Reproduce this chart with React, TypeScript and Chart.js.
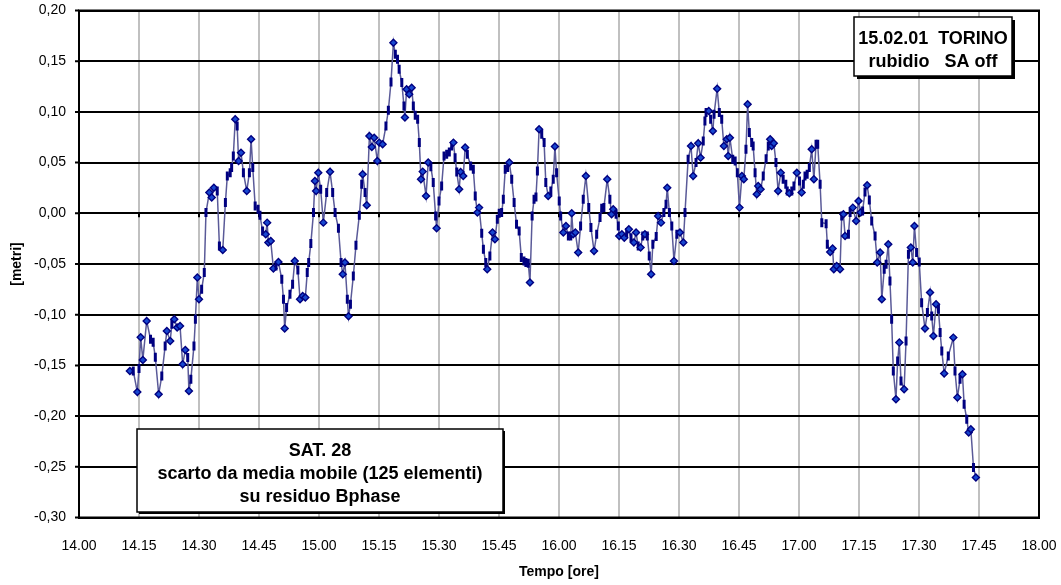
import React, { useEffect, useRef } from "react";
import { Chart, registerables } from "chart.js";

Chart.register(...registerables);

// Time of each sample, decimal hours (14.5 = 14:30)
const TIMES = [
  14.212, 14.226, 14.243, 14.25, 14.257, 14.266, 14.282, 14.298, 14.309, 14.318,
  14.332, 14.345, 14.359, 14.366, 14.38, 14.387, 14.397, 14.409, 14.421, 14.432,
  14.443, 14.453, 14.458, 14.466, 14.479, 14.485, 14.493, 14.5, 14.511, 14.522,
  14.529, 14.543, 14.553, 14.562, 14.576, 14.585, 14.599, 14.61, 14.618, 14.63,
  14.636, 14.643, 14.651, 14.659, 14.665, 14.675, 14.685, 14.699, 14.71, 14.717,
  14.724, 14.734, 14.746, 14.754, 14.765, 14.778, 14.784, 14.789, 14.799, 14.81,
  14.821, 14.831, 14.845, 14.852, 14.857, 14.865, 14.879, 14.89, 14.899, 14.912,
  14.921, 14.932, 14.943, 14.951, 14.957, 14.966, 14.977, 14.983, 14.988, 14.997,
  15.007, 15.018, 15.032, 15.046, 15.057, 15.067, 15.081, 15.092, 15.099, 15.108,
  15.118, 15.123, 15.131, 15.143, 15.154, 15.168, 15.178, 15.182, 15.192, 15.199,
  15.21, 15.22, 15.23, 15.243, 15.251, 15.265, 15.279, 15.289, 15.3, 15.31,
  15.318, 15.327, 15.334, 15.345, 15.354, 15.358, 15.365, 15.376, 15.386, 15.393,
  15.401, 15.411, 15.418, 15.425, 15.432, 15.446, 15.455, 15.466, 15.476, 15.486,
  15.49, 15.5, 15.511, 15.521, 15.532, 15.543, 15.553, 15.56, 15.567, 15.574,
  15.584, 15.59, 15.601, 15.609, 15.618, 15.632, 15.643, 15.651, 15.66, 15.667,
  15.678, 15.685, 15.695, 15.701, 15.712, 15.723, 15.733, 15.743, 15.751, 15.761,
  15.768, 15.776, 15.786, 15.793, 15.803, 15.813, 15.823, 15.834, 15.843, 15.854,
  15.862, 15.872, 15.879, 15.888, 15.896, 15.904, 15.91, 15.917, 15.928, 15.938,
  15.945, 15.955, 15.966, 15.976, 15.983, 15.99, 16.001, 16.007, 16.018, 16.029,
  16.039, 16.049, 16.053, 16.059, 16.068, 16.08, 16.09, 16.101, 16.112, 16.124,
  16.133, 16.146, 16.157, 16.171, 16.178, 16.187, 16.201, 16.212, 16.219, 16.226,
  16.238, 16.247, 16.251, 16.262, 16.272, 16.282, 16.291, 16.3, 16.312, 16.321,
  16.33, 16.34, 16.349, 16.358, 16.368, 16.376, 16.384, 16.391, 16.405, 16.413,
  16.425, 16.437, 16.446, 16.451, 16.46, 16.47, 16.479, 16.491, 16.504, 16.518,
  16.525, 16.538, 16.55, 16.559, 16.571, 16.58, 16.59, 16.601, 16.608, 16.613,
  16.624, 16.632, 16.641, 16.646, 16.659, 16.668, 16.678, 16.687, 16.699, 16.705,
  16.712, 16.724, 16.734, 16.743, 16.752, 16.762, 16.77, 16.779, 16.786, 16.793,
  16.803, 16.809, 16.817, 16.824, 16.83, 16.84, 16.851, 16.863, 16.872, 16.88,
  16.886, 16.895, 16.904, 16.913, 16.924, 16.934, 16.945, 16.951, 16.96, 16.97,
  16.979, 16.991, 17.002, 17.011, 17.018, 17.025, 17.034, 17.043, 17.053, 17.062,
  17.071, 17.078, 17.088, 17.095, 17.113, 17.118, 17.13, 17.14, 17.145, 17.157,
  17.171, 17.178, 17.185, 17.192, 17.206, 17.213, 17.224, 17.238, 17.248, 17.257,
  17.265, 17.275, 17.284, 17.293, 17.303, 17.317, 17.326, 17.338, 17.345, 17.355,
  17.363, 17.372, 17.379, 17.386, 17.393, 17.404, 17.411, 17.418, 17.425, 17.438,
  17.446, 17.456, 17.466, 17.474, 17.481, 17.49, 17.501, 17.511, 17.525, 17.535,
  17.546, 17.553, 17.56, 17.571, 17.581, 17.588, 17.595, 17.605, 17.622, 17.643,
  17.65, 17.66, 17.671, 17.681, 17.688, 17.699, 17.707, 17.716, 17.727, 17.737,
];

// Residual in metres
const VALUES = [
  -0.1555, -0.1555, -0.1762, -0.1531, -0.1223, -0.1446, -0.1062, -0.1242, -0.1272, -0.142,
  -0.1785, -0.1604, -0.1308, -0.116, -0.1259, -0.1094, -0.1045, -0.1127, -0.1111, -0.1489,
  -0.1348, -0.1423, -0.1752, -0.1637, -0.1308, -0.1045, -0.0634, -0.0848, -0.0749, -0.0585,
  0.0007, 0.0204, 0.0155, 0.0253, 0.022, -0.0322, -0.0362, 0.0106, 0.0368, 0.0401,
  0.0451, 0.0565, 0.0927, 0.0861, 0.0516, 0.0598, 0.0401, 0.022, 0.0401, 0.073,
  0.0451, 0.0072, 0.0039, -0.002, -0.0175, -0.0207, -0.0092, -0.0289, -0.0273, -0.0545,
  -0.052, -0.048, -0.0651, -0.0848, -0.1137, -0.093, -0.0799, -0.07, -0.047, -0.0559,
  -0.0848, -0.0815, -0.0831, -0.0585, -0.0486, -0.0299, 0.0007, 0.0318, 0.022, 0.0401,
  0.0237, -0.0092, 0.0204, 0.0409, 0.0204, 0.0007, -0.0148, -0.0486, -0.0602, -0.0486,
  -0.0848, -0.1016, -0.0897, -0.0618, -0.0316, -0.002, 0.0286, 0.0385, 0.0204, 0.0079,
  0.0762, 0.0654, 0.0746, 0.0516, 0.0697, 0.068, 0.0861, 0.1016, 0.1295, 0.1683,
  0.1568, 0.1518, 0.142, 0.1289, 0.1058, 0.0944, 0.1223, 0.1174, 0.1239, 0.1058,
  0.0966, 0.0927, 0.0697, 0.0335, 0.0411, 0.0171, 0.05, 0.046, 0.0303, -0.0027,
  -0.0148, 0.0121, 0.0269, 0.0565, 0.0582, 0.0604, 0.0664, 0.0697, 0.0549, 0.0407,
  0.0237, 0.0407, 0.0368, 0.0648, 0.0582, 0.0466, 0.0434, 0.0171, 0.0007, 0.0056,
  -0.0197, -0.0355, -0.0486, -0.0552, -0.0421, -0.019, -0.0256, -0.0059, 0.0, 0.0007,
  0.0138, 0.0434, 0.0451, 0.05, 0.0335, 0.0106, -0.0108, -0.0175, -0.0437, -0.047,
  -0.0486, -0.0493, -0.0683, -0.0027, 0.0138, 0.0161, 0.0417, 0.0828, 0.0779, 0.0697,
  0.0303, 0.0171, 0.022, 0.0335, 0.0658, 0.0401, 0.0121, -0.0027, -0.019, -0.0125,
  -0.0224, -0.0224, 0.0, -0.0207, -0.019, -0.0387, -0.0125, 0.0138, 0.0368, 0.0056,
  -0.0141, -0.0372, -0.0207, -0.0042, 0.0049, 0.0056, 0.0335, 0.0138, -0.001, 0.0039,
  -0.001, -0.0125, -0.0224, -0.0207, -0.024, -0.019, -0.0158, -0.024, -0.0289, -0.019,
  -0.0322, -0.0338, -0.0224, -0.0207, -0.0224, -0.0421, -0.0602, -0.0306, -0.023, -0.0027,
  -0.0092, 0.0007, 0.0089, 0.0253, 0.0007, -0.0125, -0.047, -0.0207, -0.019, -0.0289,
  0.0007, 0.0532, 0.0664, 0.0368, 0.05, 0.069, 0.0549, 0.0713, 0.091, 0.0993,
  0.1009, 0.0927, 0.0812, 0.0976, 0.1229, 0.0993, 0.0927, 0.0664, 0.073, 0.0565,
  0.0746, 0.0532, 0.0516, 0.0401, 0.0056, 0.0368, 0.0335, 0.0631, 0.1075, 0.0796,
  0.0697, 0.0664, 0.0401, 0.0187, 0.0269, 0.0237, 0.0368, 0.0539, 0.0664, 0.073,
  0.0664, 0.069, 0.05, 0.022, 0.0401, 0.0335, 0.0286, 0.022, 0.0197, 0.022,
  0.0269, 0.0401, 0.0318, 0.0204, 0.0286, 0.0368, 0.0385, 0.0451, 0.0631, 0.0335,
  0.068, 0.068, 0.0286, -0.0092, -0.0102, -0.0306, -0.0382, -0.0348, -0.0552, -0.052,
  -0.0552, -0.0027, -0.001, -0.0224, -0.0207, 0.0007, 0.0056, -0.0076, 0.0121, 0.0007,
  0.0023, 0.021, 0.0276, 0.0131, -0.0076, -0.0224, -0.0486, -0.0387, -0.0848, -0.0552,
  -0.0503, -0.0306, -0.0668, -0.1045, -0.1555, -0.1834, -0.1456, -0.1275, -0.1654, -0.1735,
  -0.1259, -0.0404, -0.0338, -0.0486, -0.0125, -0.0387, -0.048, -0.0881, -0.1137, -0.0979,
  -0.0782, -0.1013, -0.121, -0.0897, -0.0947, -0.1176, -0.1358, -0.1581, -0.1407, -0.1226,
  -0.1555, -0.1817, -0.1637, -0.1587, -0.1883, -0.2031, -0.2162, -0.213, -0.2507, -0.2606,
];

const X_TICK_LABELS = [
  "14.00", "14.15", "14.30", "14.45", "15.00", "15.15", "15.30", "15.45",
  "16.00", "16.15", "16.30", "16.45", "17.00", "17.15", "17.30", "17.45", "18.00",
];
const Y_TICK_LABELS = [
  "-0,30", "-0,25", "-0,20", "-0,15", "-0,10", "-0,05", "0,00", "0,05", "0,10", "0,15", "0,20",
];
const X_TITLE = "Tempo [ore]";
const Y_TITLE = "[metri]";
const INFO_TOP = ["15.02.01  TORINO", "rubidio   SA off"];
const INFO_BOTTOM = ["SAT. 28", "scarto da media mobile (125 elementi)", "su residuo Bphase"];

const FONT = "'Liberation Sans', Arial, Helvetica, sans-serif";

const isTurn = (i: number) => {
  if (i <= 0 || i >= VALUES.length - 1) return true;
  const a = VALUES[i - 1], b = VALUES[i], c = VALUES[i + 1];
  return (b > a && b > c) || (b < a && b < c);
};

const decorPlugin = {
  id: "decor",
  beforeDatasetsDraw(chart: any) {
    const { ctx, chartArea } = chart;
    const xs = chart.scales.x;
    const ys = chart.scales.y;
    ctx.save();
    ctx.strokeStyle = "#000";
    ctx.lineWidth = 2;
    ctx.strokeRect(chartArea.left, chartArea.top, chartArea.right - chartArea.left, chartArea.bottom - chartArea.top);
    const y0 = ys.getPixelForValue(0);
    ctx.beginPath();
    xs.ticks.forEach((t: any) => {
      const px = xs.getPixelForValue(t.value);
      ctx.moveTo(px, y0);
      ctx.lineTo(px, y0 + 4);
    });
    ys.ticks.forEach((t: any) => {
      const py = ys.getPixelForValue(t.value);
      ctx.moveTo(chartArea.left - 4, py);
      ctx.lineTo(chartArea.left, py);
    });
    ctx.stroke();
    ctx.restore();
  },
  afterDraw(chart: any) {
    const { ctx } = chart;
    const drawBox = (l: number, t: number, r: number, b: number, sh: number, lines: string[], ys: number[]) => {
      ctx.save();
      ctx.fillStyle = "#000";
      ctx.fillRect(l + sh, t + sh, r - l, b - t);
      ctx.fillStyle = "#fff";
      ctx.fillRect(l, t, r - l, b - t);
      ctx.strokeStyle = "#000";
      ctx.lineWidth = 1.5;
      ctx.strokeRect(l, t, r - l, b - t);
      ctx.fillStyle = "#000";
      ctx.font = `bold 18px ${FONT}`;
      ctx.textAlign = "center";
      ctx.textBaseline = "middle";
      lines.forEach((s, i) => ctx.fillText(s, (l + r) / 2, ys[i]));
      ctx.restore();
    };
    drawBox(854, 17, 1012, 76, 3, INFO_TOP, [39.5, 62.5]);
    drawBox(137, 429, 503, 512, 2, INFO_BOTTOM, [451.5, 474, 497.5]);
  },
};

export default function App() {
  const canvasRef = useRef<HTMLCanvasElement | null>(null);

  useEffect(() => {
    if (!canvasRef.current) return;
    const chart = new Chart(canvasRef.current, {
      type: "line",
      data: {
        datasets: [
          {
            data: TIMES.map((t, i) => ({ x: t, y: VALUES[i] })),
            borderColor: "#5a5a98",
            borderWidth: 1.5,
            tension: 0,
            pointStyle: (c: any) => (isTurn(c.dataIndex) ? "rectRot" : "line"),
            pointRotation: (c: any) => (isTurn(c.dataIndex) ? 0 : 90),
            pointRadius: (c: any) => (isTurn(c.dataIndex) ? 3.5 : 4.5),
            pointBorderWidth: (c: any) => (isTurn(c.dataIndex) ? 1.4 : 3),
            pointBackgroundColor: "#1848d0",
            pointBorderColor: "#000080",
          } as any,
        ],
      },
      options: {
        responsive: true,
        maintainAspectRatio: false,
        animation: false,
        layout: { padding: { top: 10.5, right: 22, bottom: 0, left: 0 } },
        plugins: { legend: { display: false }, tooltip: { enabled: false } },
        scales: {
          x: {
            type: "linear",
            min: 14,
            max: 18,
            afterFit: (s: any) => {
              s.height = 67.5;
            },
            ticks: {
              stepSize: 0.25,
              autoSkip: false,
              maxRotation: 0,
              padding: 0,
              color: "#000",
              font: { family: FONT, size: 14 },
              callback: (v: any) => X_TICK_LABELS[Math.round((Number(v) - 14) / 0.25)],
            },
            grid: { color: "#c0c0c0", lineWidth: 2, drawTicks: true, tickLength: 20, tickColor: "rgba(0,0,0,0)" },
            border: { color: "#000", width: 2 },
            title: {
              display: true,
              text: X_TITLE,
              color: "#000",
              font: { family: FONT, size: 14, weight: "bold" },
              padding: { top: 0, bottom: 4 },
            },
          },
          y: {
            type: "linear",
            min: -0.3,
            max: 0.2,
            afterFit: (s: any) => {
              s.width = 79;
            },
            ticks: {
              stepSize: 0.05,
              padding: 0,
              color: "#000",
              font: { family: FONT, size: 14 },
              callback: (v: any) => Y_TICK_LABELS[Math.round((Number(v) + 0.3) / 0.05)],
            },
            grid: { color: "#000", lineWidth: 2, drawTicks: true, tickLength: 13, tickColor: "rgba(0,0,0,0)" },
            border: { color: "#000", width: 2 },
            title: {
              display: true,
              text: Y_TITLE,
              color: "#000",
              font: { family: FONT, size: 14, weight: "bold" },
              padding: { top: 9, bottom: 0 },
            },
          },
        },
      } as any,
      plugins: [decorPlugin],
    });
    return () => chart.destroy();
  }, []);

  return (
    <div style={{ position: "fixed", left: 0, top: 0, width: 1061, height: 585, background: "#fff" }}>
      <canvas ref={canvasRef} />
    </div>
  );
}
